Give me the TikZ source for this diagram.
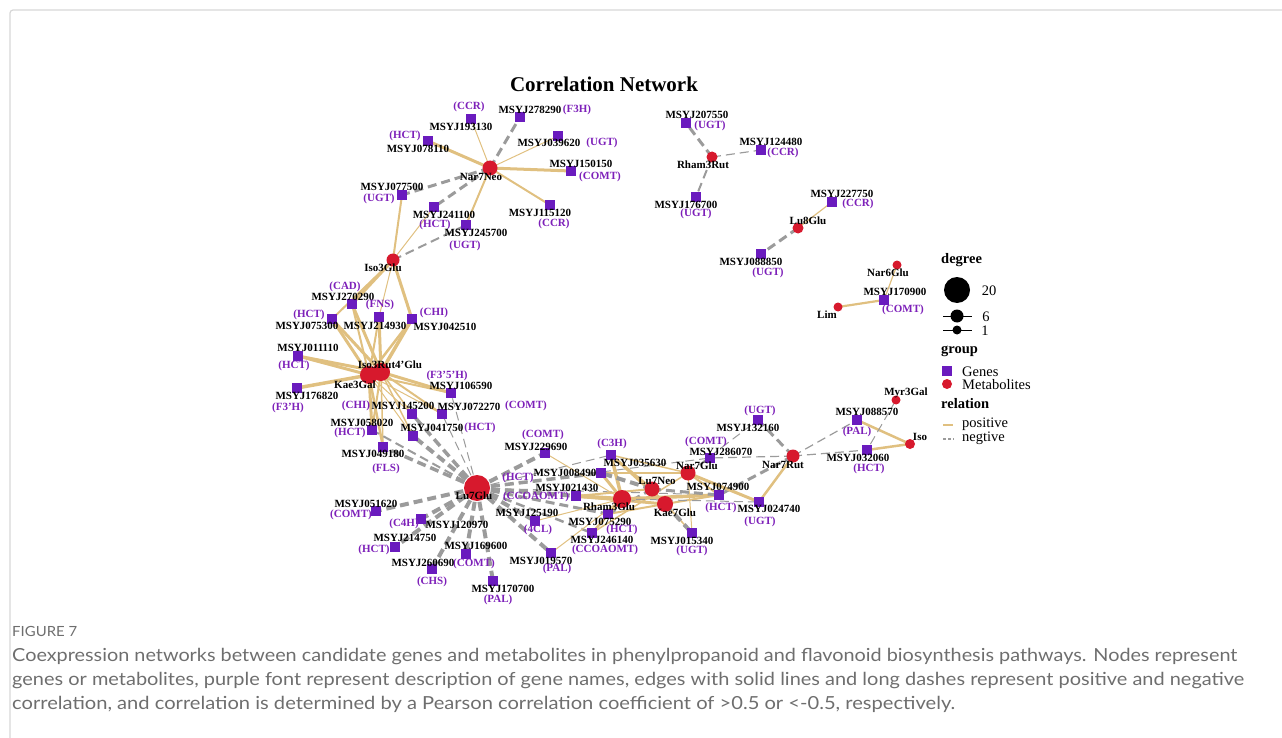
\documentclass[tikz,border=0pt]{standalone}
\usepackage{fontspec}
\usepackage{graphicx}
\setmainfont{Liberation Serif}
\newfontfamily\capfont{Lato}
\usetikzlibrary{backgrounds}
\pgfdeclarelayer{edges}
\pgfsetlayers{edges,main}
\definecolor{genec}{RGB}{106,27,190}
\definecolor{descc}{RGB}{125,32,185}
\definecolor{metc}{RGB}{215,25,45}
\definecolor{posc}{RGB}{224,192,128}
\definecolor{negc}{RGB}{155,155,155}
\definecolor{capc}{RGB}{110,110,110}
\definecolor{framec}{RGB}{215,215,215}
\newcommand\labfont{\bfseries\fontsize{11}{12}\selectfont}
\newcommand\legb{\bfseries\fontsize{14.5}{16}\selectfont}
\newcommand\legr{\fontsize{14.5}{16}\selectfont}
\newcommand\capsize{\capfont\fontsize{18}{20}\selectfont}
\tikzset{
  gene/.style={rectangle, fill=genec, minimum size=9.5pt, inner sep=0pt},
  met/.style={circle, fill=metc, inner sep=0pt, minimum size=#1},
  lab/.style={font=\labfont, text=black, inner sep=0pt},
  desc/.style={font=\labfont, text=descc, inner sep=0pt},
  posedge/.style={draw=posc},
  negedge/.style={draw=negc, dash pattern=on 9pt off 5pt},
  capline/.style={font=\capsize, text=capc, anchor=west, inner sep=0pt}
}
\newcommand\gene[8]{\node[gene] (g#1) at (#2,#3) {};
  \node[lab] (t#1) at (#4,#5) {MSYJ#1};
  \node[desc] (d#1) at (#6,#7) {(#8)};}
\newcommand\EP[3]{\draw[posedge, line width=#3pt] (#1.center) -- (#2.center);}
\newcommand\EN[3]{\draw[negedge, line width=#3pt] (#1.center) -- (#2.center);}
\begin{document}
\begin{tikzpicture}[x=1pt,y=-1pt]
\useasboundingbox (0,0) rectangle (1282,738);
\draw[framec, line width=1.2pt, rounded corners=3pt] (10,740) -- (10,10) -- (1290,10);

\node[font=\bfseries\fontsize{21}{24}\selectfont] (title) at (604,84) {Correlation Network};

% metabolites
\node[met=15pt] (nar7neo) at (490,168) {};
\node[met=13pt] (iso3glu) at (393,260) {};
\node[met=11pt] (rham3rut) at (712,157) {};
\node[met=11pt] (lu8glu) at (798,228) {};
\node[met=9pt] (nar6glu) at (897,265) {};
\node[met=9pt] (lim) at (838,307) {};
\node[met=9pt] (myr3gal) at (896,400) {};
\node[met=10pt] (iso) at (910,444) {};
\node[met=13pt] (nar7rut) at (793,456) {};
\node[met=26pt] (lu7glu) at (477,488) {};
\node[met=18pt] (rham3glu) at (622,499) {};
\node[met=15pt] (lu7neo) at (652,489) {};
\node[met=16pt] (kae7glu) at (665,504) {};
\node[met=15pt] (nar7glu) at (688,473) {};
\node[met=18pt] (kae3gal) at (369,375) {};
\node[met=18pt] (iso3rut) at (381,372) {};

% genes
\gene{278290}{520}{117}{530}{110}{577}{110}{F3H}
\gene{193130}{471}{119}{461}{127}{469}{107}{CCR}
\gene{078110}{428}{141}{418}{149}{405}{136}{HCT}
\gene{039620}{558}{136}{549}{143}{602}{143}{UGT}
\gene{150150}{571}{171}{581}{164}{600}{177}{COMT}
\gene{077500}{402}{195}{392}{187}{379}{199}{UGT}
\gene{241100}{434}{207}{444}{215}{435}{225}{HCT}
\gene{245700}{466}{225}{476}{233}{465}{246}{UGT}
\gene{115120}{550}{205}{540}{213}{554}{224}{CCR}
\gene{207550}{686}{123}{697}{115}{710}{126}{UGT}
\gene{124480}{761}{150}{771}{142}{783}{153}{CCR}
\gene{176700}{696}{197}{686}{205}{696}{214}{UGT}
\gene{227750}{832}{202}{842}{194}{858}{204}{CCR}
\gene{088850}{761}{254}{751}{262}{768}{273}{UGT}
\gene{170900}{884}{300}{895}{292}{903}{310}{COMT}
\gene{088570}{857}{420}{867}{412}{857}{432}{PAL}
\gene{032060}{867}{450}{858}{458}{869}{469}{HCT}
\gene{132160}{758}{420}{748}{428}{760}{411}{UGT}
\gene{286070}{710}{458}{721}{452}{706}{442}{COMT}
\gene{074900}{719}{495}{718}{487}{721}{508}{HCT}
\gene{024740}{759}{502}{769}{509}{760}{522}{UGT}
\gene{229690}{545}{453}{536}{447}{543}{435}{COMT}
\gene{008490}{601}{473}{565}{473}{518}{478}{HCT}
\gene{021430}{576}{496}{567}{488}{536}{497}{CCOAOMT}
\gene{035630}{611}{455}{635}{463}{612}{444}{C3H}
\gene{125190}{535}{521}{527}{513}{538}{530}{4CL}
\gene{075290}{608}{514}{600}{522}{622}{530}{HCT}
\gene{246140}{592}{533}{602}{540}{605}{550}{CCOAOMT}
\gene{015340}{692}{533}{682}{541}{692}{551}{UGT}
\gene{019570}{551}{553}{541}{561}{557}{569}{PAL}
\gene{170700}{493}{581}{503}{589}{498}{600}{PAL}
\gene{169600}{466}{554}{476}{546}{474}{564}{COMT}
\gene{260690}{432}{569}{423}{563}{432}{582}{CHS}
\gene{214750}{395}{547}{405}{538}{374}{550}{HCT}
\gene{120970}{421}{519}{457}{525}{404}{524}{C4H}
\gene{051620}{376}{511}{366}{504}{351}{515}{COMT}
\gene{049180}{383}{447}{373}{454}{386}{469}{FLS}
\gene{058020}{372}{430}{362}{423}{350}{433}{HCT}
\gene{041750}{413}{436}{432}{428}{480}{428}{HCT}
\gene{145200}{412}{414}{403}{406}{356}{406}{CHI}
\gene{072270}{442}{414}{469}{407}{526}{406}{COMT}
\gene{106590}{451}{393}{461}{386}{447}{376}{F3'5'H}
\gene{176820}{297}{388}{307}{396}{288}{408}{F3'H}
\gene{011110}{298}{356}{308}{348}{294}{366}{HCT}
\gene{075300}{332}{319}{307}{326}{309}{315}{HCT}
\gene{270290}{352}{304}{343}{297}{345}{287}{CAD}
\gene{214930}{379}{317}{375}{326}{380}{305}{FNS}
\gene{042510}{412}{319}{445}{327}{434}{313}{CHI}

% metabolite labels
\node[lab] (l-nar7neo) at (481,177) {Nar7Neo};
\node[lab] (l-iso3glu) at (383,268) {Iso3Glu};
\node[lab] (l-rham3rut) at (703,165) {Rham3Rut};
\node[lab] (l-lu8glu) at (808,221) {Lu8Glu};
\node[lab] (l-nar6glu) at (888,273) {Nar6Glu};
\node[lab] (l-lim) at (827,315) {Lim};
\node[lab] (l-myr3gal) at (906,393) {Myr3Gal};
\node[lab] (l-iso) at (920,437) {Iso};
\node[lab] (l-nar7rut) at (783,465) {Nar7Rut};
\node[lab] (l-lu7glu) at (474,496) {Lu7Glu};
\node[lab] (l-rham3glu) at (609,507) {Rham3Glu};
\node[lab] (l-lu7neo) at (657,481) {Lu7Neo};
\node[lab] (l-kae7glu) at (675,513) {Kae7Glu};
\node[lab] (l-nar7glu) at (697,466) {Nar7Glu};
\node[lab] (l-iso3rut) at (390,365) {Iso3Rut4'Glu};
\node[lab] (l-kae3gal) at (355,385) {Kae3Gal};

\begin{pgfonlayer}{edges}
% cluster Nar7Neo
\EN{nar7neo}{g278290}{3}
\EP{nar7neo}{g193130}{1}
\EP{nar7neo}{g078110}{3}
\EP{nar7neo}{g039620}{1}
\EP{nar7neo}{g150150}{3}
\EP{nar7neo}{g115120}{2}
\EP{nar7neo}{g245700}{2}
\EN{nar7neo}{g077500}{3}
\EN{nar7neo}{g241100}{3}
\EP{iso3glu}{g077500}{2}
\EP{iso3glu}{g241100}{1}
\EN{iso3glu}{g245700}{2}
% Rham3Rut, Lu8Glu, Nar6Glu
\EN{rham3rut}{g207550}{3}
\EN{rham3rut}{g124480}{1.2}
\EN{rham3rut}{g176700}{2}
\EP{lu8glu}{g227750}{1.2}
\EN{lu8glu}{g088850}{3}
\EP{nar6glu}{g170900}{1.2}
\EP{lim}{g170900}{2.2}
% Iso cluster
\EP{iso}{g088570}{2.5}
\EP{iso}{g032060}{2.5}
\EN{myr3gal}{g032060}{1}
\EN{nar7rut}{g088570}{1.2}
\EN{nar7rut}{g032060}{1.2}
\EN{nar7rut}{g286070}{1.2}
\EN{nar7rut}{g132160}{3}
\EN{nar7rut}{g074900}{3}
\EP{nar7rut}{g024740}{2.5}
\EN{nar7glu}{g132160}{1}
% Iso3Glu to lower cluster
\EP{iso3glu}{g270290}{3}
\EP{iso3glu}{g075300}{2}
\EP{iso3glu}{g214930}{1}
\EP{iso3glu}{g042510}{3}
% Iso3Rut4'Glu / Kae3Gal
\EP{iso3rut}{g075300}{3}
\EP{kae3gal}{g075300}{3}
\EP{iso3rut}{g270290}{3}
\EP{kae3gal}{g270290}{2}
\EP{iso3rut}{g214930}{3}
\EP{kae3gal}{g214930}{2}
\EP{iso3rut}{g042510}{3.5}
\EP{kae3gal}{g042510}{2.5}
\EP{iso3rut}{g011110}{3}
\EP{kae3gal}{g011110}{3}
\EP{kae3gal}{g176820}{3.5}
\EP{iso3rut}{g106590}{3}
\EP{kae3gal}{g106590}{2}
\EP{iso3rut}{g145200}{1.5}
\EP{kae3gal}{g145200}{1}
\EP{iso3rut}{g072270}{2}
\EP{kae3gal}{g072270}{1}
\EP{kae3gal}{g058020}{3}
\EP{iso3rut}{g058020}{2}
\EP{kae3gal}{g049180}{2.5}
\EP{iso3rut}{g049180}{1.5}
\EP{iso3rut}{g041750}{1.5}
\EP{kae3gal}{g041750}{1}
% Lu7Glu negatives
\EN{lu7glu}{g041750}{4}
\EN{lu7glu}{g145200}{3.5}
\EN{lu7glu}{g072270}{1}
\EN{lu7glu}{g106590}{1}
\EN{lu7glu}{g049180}{3.5}
\EN{lu7glu}{g058020}{2}
\EN{lu7glu}{g051620}{4}
\EN{lu7glu}{g120970}{4}
\EN{lu7glu}{g214750}{4}
\EN{lu7glu}{g260690}{4}
\EN{lu7glu}{g169600}{4}
\EN{lu7glu}{g170700}{4}
\EN{lu7glu}{g019570}{4}
\EN{lu7glu}{g125190}{4}
\EN{lu7glu}{g229690}{4}
\EN{lu7glu}{g008490}{3.5}
\EN{lu7glu}{g021430}{4}
\EN{lu7glu}{g075290}{3}
\EN{lu7glu}{g246140}{2.5}
\EN{lu7glu}{g035630}{1}
\EN{lu7glu}{g286070}{1}
\EN{lu7glu}{g074900}{1}
% dense cluster
\EP{rham3glu}{g035630}{3.5}
\EP{lu7neo}{g035630}{2.5}
\EP{kae7glu}{g035630}{2.5}
\EP{nar7glu}{g035630}{1.5}
\EP{rham3glu}{g008490}{3}
\EP{nar7glu}{g008490}{1.5}
\EN{lu7neo}{g008490}{4}
\EP{rham3glu}{g021430}{4}
\EP{kae7glu}{g021430}{3}
\EP{lu7neo}{g021430}{2}
\EP{rham3glu}{g229690}{1}
\EP{rham3glu}{g125190}{1}
\EP{rham3glu}{g075290}{2.5}
\EP{kae7glu}{g075290}{2}
\EN{lu7neo}{g075290}{3}
\EP{rham3glu}{g246140}{2.5}
\EP{nar7glu}{g246140}{1.5}
\EP{rham3glu}{g019570}{1}
\EP{nar7glu}{g015340}{1}
\EP{lu7neo}{g015340}{1.5}
\EN{kae7glu}{g015340}{4}
\EP{rham3glu}{g074900}{3.5}
\EP{nar7glu}{g074900}{2}
\EP{kae7glu}{g074900}{2}
\EN{lu7neo}{g074900}{3}
\EP{nar7glu}{g024740}{3}
\EN{rham3glu}{g024740}{1}
\EN{nar7glu}{g286070}{1.5}
\end{pgfonlayer}

% legend
\node[font=\legb, anchor=west, inner sep=0pt] (lg-deg) at (941,260) {degree};
\node[circle, fill=black, minimum size=26pt, inner sep=0pt] (lg-c20) at (957,290) {};
\node[font=\legr, inner sep=0pt] (lg-t20) at (989,291) {20};
\draw[line width=0.8pt] (943,316) -- (972,316);
\node[circle, fill=black, minimum size=13pt, inner sep=0pt] (lg-c6) at (957,316) {};
\node[font=\legr, inner sep=0pt] (lg-t6) at (986,317) {6};
\draw[line width=0.8pt] (943,330) -- (972,330);
\node[circle, fill=black, minimum size=9pt, inner sep=0pt] (lg-c1) at (957,330) {};
\node[font=\legr, inner sep=0pt] (lg-t1) at (985,331) {1};
\node[font=\legb, anchor=west, inner sep=0pt] (lg-grp) at (941,351) {group};
\node[gene, minimum size=10pt] (lg-gene) at (947,371) {};
\node[font=\legr, anchor=west, inner sep=0pt] (lg-tgene) at (962,372) {Genes};
\node[met=10pt] (lg-met) at (947,384) {};
\node[font=\legr, anchor=west, inner sep=0pt] (lg-tmet) at (962,385) {Metabolites};
\node[font=\legb, anchor=west, inner sep=0pt] (lg-rel) at (941,404) {relation};
\draw[posc, line width=1.2pt] (943,425) -- (953,425);
\node[font=\legr, anchor=west, inner sep=0pt] (lg-tpos) at (962,424) {positive};
\draw[negc, line width=1.2pt, dash pattern=on 3pt off 2pt] (943,439) -- (954,439);
\node[font=\legr, anchor=west, inner sep=0pt] (lg-tneg) at (962,438) {negtive};

% caption
\node[font=\capfont\fontsize{14}{16}\selectfont, text=capc, anchor=west, inner sep=0pt] (figno) at (12,631) {\resizebox{65pt}{\height}{FIGURE 7}};
\node[capline] (cap1) at (12,657) {\resizebox{1225pt}{\height}{Coexpression networks between candidate genes and metabolites in phenylpropanoid and flavonoid biosynthesis pathways. Nodes represent}};
\node[capline] (cap2) at (12,681) {\resizebox{1232pt}{\height}{genes or metabolites, purple font represent description of gene names, edges with solid lines and long dashes represent positive and negative}};
\node[capline] (cap3) at (12,704) {\resizebox{943pt}{\height}{correlation, and correlation is determined by a Pearson correlation coefficient of >0.5 or <-0.5, respectively.}};
\end{tikzpicture}
\end{document}
